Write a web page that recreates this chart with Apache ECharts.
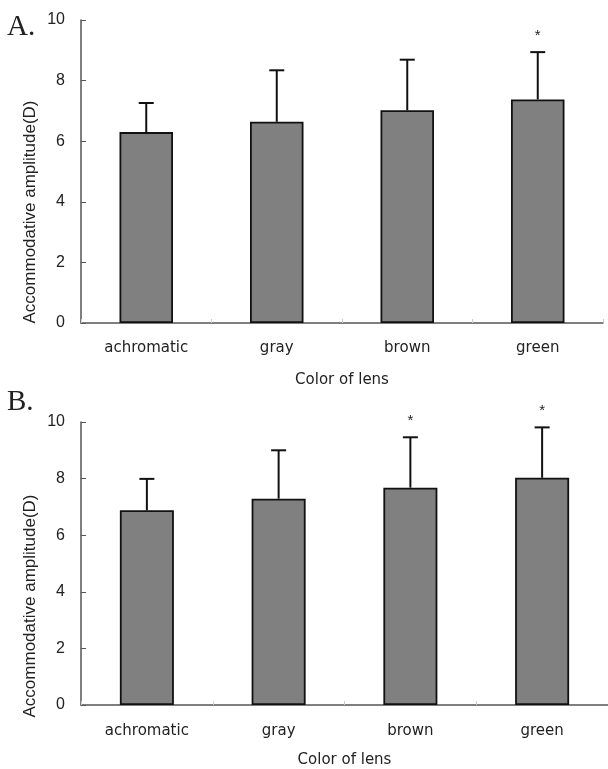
<!DOCTYPE html>
<html>
<head>
<meta charset="utf-8">
<script src="https://cdn.jsdelivr.net/npm/echarts@6/dist/echarts.min.js"></script>
<style>html,body{margin:0;padding:0;background:#fff}#c{width:608px;height:769px}</style>
</head>
<body>
<div id="c"></div>
<script>
const categories = ['achromatic', 'gray', 'brown', 'green'];
const yTicks = [0, 2, 4, 6, 8, 10];
const meanA = [6.30, 6.64, 7.02, 7.38];
const sdA = [0.96, 1.70, 1.67, 1.56];
const sigA = ['', '', '', '*'];
const meanB = [6.88, 7.29, 7.68, 8.03];
const sdB = [1.11, 1.71, 1.78, 1.78];
const sigB = ['', '', '*', '*'];
const panelLabels = ['A.', 'B.'];
const yTitle = 'Accommodative amplitude(D)';
const xTitle = 'Color of lens';

const chart = echarts.init(document.getElementById('c'), null, {renderer: 'canvas'});
const sans = '"Liberation Sans", Arial, sans-serif';
const wide = '"DejaVu Sans", sans-serif';

function xAxisCfg(gridIndex, nameGap, margin) {
  return {
    type: 'category', gridIndex: gridIndex, data: categories,
    name: xTitle, nameLocation: 'middle', nameGap: nameGap,
    nameTextStyle: {fontFamily: wide, fontSize: 15, color: '#222'},
    axisLine: {lineStyle: {color: '#555', width: 1.5}},
    axisTick: {show: true, inside: true, length: 4, lineStyle: {color: '#ccc'}},
    axisLabel: {fontFamily: wide, fontSize: 15, color: '#222', margin: margin}
  };
}
function yAxisCfg(gridIndex) {
  return {
    type: 'value', gridIndex: gridIndex, min: yTicks[0], max: yTicks[yTicks.length - 1], interval: 2,
    axisLine: {show: true, lineStyle: {color: '#555', width: 1.5}},
    axisTick: {show: true, inside: true, length: 5, lineStyle: {color: '#555'}},
    axisLabel: {fontFamily: sans, fontSize: 16, color: '#222', margin: 16},
    splitLine: {show: false}
  };
}
function errSeries(idx, mean, sd, sig) {
  return {
    type: 'custom', xAxisIndex: idx, yAxisIndex: idx, z: 5,
    data: mean.map((m, i) => [i, m, m + sd[i], sig[i]]),
    renderItem: function (params, api) {
      const base = api.coord([api.value(0), api.value(1)]);
      const top = api.coord([api.value(0), api.value(2)]);
      const s = api.value(3);
      const children = [
        {type: 'line', shape: {x1: base[0], y1: base[1], x2: top[0], y2: top[1]}, style: {stroke: '#111', lineWidth: 2}},
        {type: 'line', shape: {x1: top[0] - 7.5, y1: top[1], x2: top[0] + 7.5, y2: top[1]}, style: {stroke: '#111', lineWidth: 2}}
      ];
      if (s === '*') {
        children.push({type: 'text', style: {text: '*', x: top[0], y: top[1] - 9, textAlign: 'center', textVerticalAlign: 'bottom', fontSize: 15, fontFamily: sans, fill: '#222'}});
      }
      return {type: 'group', children: children};
    }
  };
}
function barSeries(idx, mean) {
  return {
    type: 'bar', xAxisIndex: idx, yAxisIndex: idx, data: mean, barWidth: '41%',
    itemStyle: {color: '#808080', borderColor: '#111', borderWidth: 1.8}
  };
}
function yTitleText(cx, cy) {
  return {type: 'text', x: cx, y: cy, rotation: Math.PI / 2,
    style: {text: yTitle, fontFamily: sans, fontSize: 17, fill: '#222', textAlign: 'center', textVerticalAlign: 'middle'}};
}

chart.setOption({
  animation: false,
  backgroundColor: '#fff',
  grid: [
    {left: 81, top: 20, width: 522, height: 303},
    {left: 81, top: 422, width: 527, height: 290}
  ],
  xAxis: [xAxisCfg(0, 50, 18), xAxisCfg(1, 48, 19)],
  yAxis: [yAxisCfg(0), yAxisCfg(1)],
  graphic: [
    {type: 'text', left: 7, top: 13, style: {text: panelLabels[0], fontFamily: '"Liberation Serif", serif', fontSize: 29, fill: '#222'}},
    {type: 'text', left: 7, top: 388, style: {text: panelLabels[1], fontFamily: '"Liberation Serif", serif', fontSize: 29, fill: '#222'}},
    yTitleText(30, 212),
    yTitleText(30, 606)
  ],
  series: [barSeries(0, meanA), errSeries(0, meanA, sdA, sigA), barSeries(1, meanB), errSeries(1, meanB, sdB, sigB)]
});
</script>
</body>
</html>
